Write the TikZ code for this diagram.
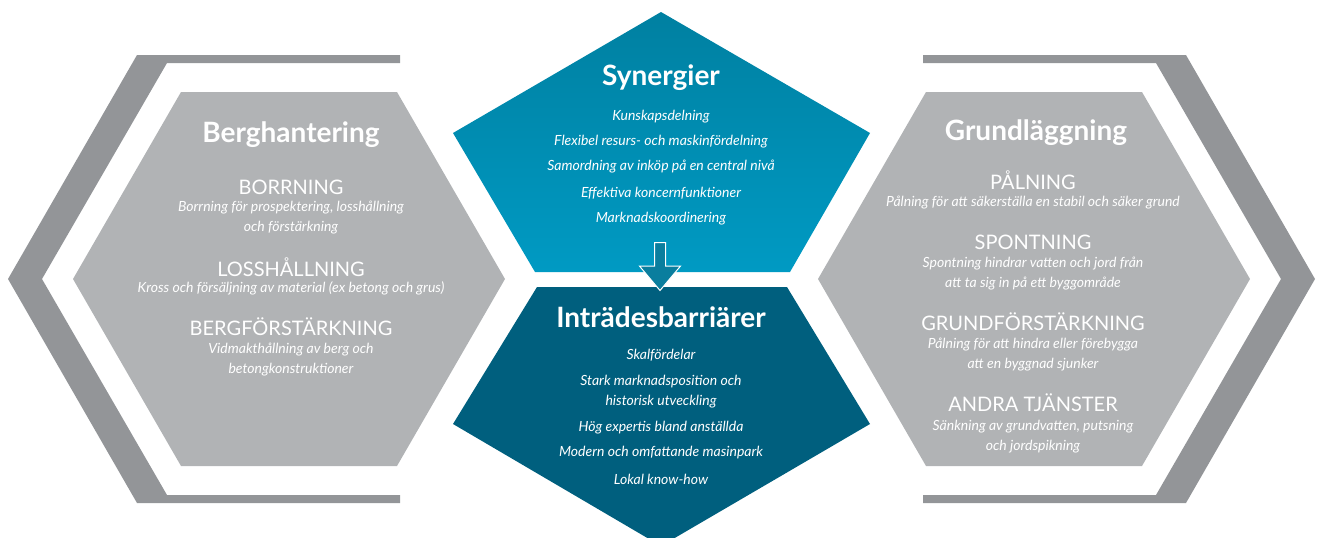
\documentclass[tikz,border=0pt]{standalone}
\usepackage{fontspec}
\setmainfont{Lato}
\usetikzlibrary{shapes.arrows}
\definecolor{bracketgray}{HTML}{939598}
\definecolor{hexgray}{HTML}{B1B3B5}
\definecolor{syntop}{HTML}{0080A1}
\definecolor{synbot}{HTML}{009AC3}
\definecolor{barrier}{HTML}{005F7E}
\definecolor{arrowteal}{HTML}{0A7E9E}
\tikzset{
  ttl/.style={text=white, font=\bfseries\fontsize{28}{32}\selectfont, inner sep=0pt},
  head/.style={text=white, font=\fontsize{20}{22}\selectfont, inner sep=0pt},
  desc/.style={text=white, font=\itshape\fontsize{14}{20}\selectfont, align=center, inner sep=0pt},
  blockarrow/.style={single arrow, shape border rotate=270, anchor=tail, fill=arrowteal,
    draw=white, line width=1pt, inner sep=5pt, minimum height=48pt,
    single arrow head extend=15pt, single arrow tip angle=80, single arrow head indent=0pt}
}

\begin{document}
\begin{tikzpicture}[x=1pt, y=-1pt]
\useasboundingbox (0,0) rectangle (1323,538);
% brackets
\fill[bracketgray] (400,55) -- (137,55) -- (8,279) -- (137,503) -- (400,503) -- (400,495)
  -- (167,495) -- (42,279) -- (167,63) -- (400,63) -- cycle;
\fill[bracketgray] (923,55) -- (1186,55) -- (1315,279) -- (1186,503) -- (923,503) -- (923,495)
  -- (1156,495) -- (1281,279) -- (1156,63) -- (923,63) -- cycle;
% hexagons
\fill[hexgray] (181,92) -- (397,92) -- (505,279) -- (397,466) -- (181,466) -- (73,279) -- cycle;
\fill[hexgray] (926,92) -- (1142,92) -- (1250,279) -- (1142,466) -- (926,466) -- (818,279) -- cycle;
% middle
\shade[top color=syntop, bottom color=synbot] (661,12) -- (870,133) -- (790,272) -- (535,272)
  -- (453,133) -- cycle;
\fill[barrier] (537,287) -- (787,287) -- (870,424) -- (661,546) -- (453,424) -- cycle;

% Berghantering
\node[ttl] (bergT) at (291,135) {Berghantering};
\node[head] (borr) at (291,187) {BORRNING};
\node[desc] (borrD) at (291,218) {Borrning för prospektering, losshållning\\och förstärkning};
\node[head] (loss) at (291,267) {LOSSHÅLLNING};
\node[desc] (lossD) at (291,288) {Kross och försäljning av material (ex betong och grus)};
\node[head] (bergf) at (291,327) {BERGFÖRSTÄRKNING};
\node[desc] (bergfD) at (291,360) {Vidmakthållning av berg och\\betongkonstruktioner};

% Grundlaggning
\node[ttl] (grundT) at (1036,133) {Grundläggning};
\node[head] (paln) at (1033,180) {PÅLNING};
\node[desc] (palnD) at (1033,203) {Pålning för att säkerställa en stabil och säker grund};
\node[head] (spont) at (1033,242) {SPONTNING};
\node[desc] (spontD) at (1033,274) {Spontning hindrar vatten och jord från\\att ta sig in på ett byggområde};
\node[head] (grundf) at (1033,322) {GRUNDFÖRSTÄRKNING};
\node[desc] (grundfD) at (1033,355) {Pålning för att hindra eller förebygga\\att en byggnad sjunker};
\node[head] (andra) at (1033,403) {ANDRA TJÄNSTER};
\node[desc] (andraD) at (1033,437) {Sänkning av grundvatten, putsning\\och jordspikning};

% Synergier
\node[ttl] (synT) at (661,78) {Synergier};
\node[desc] (syn1) at (661,117) {Kunskapsdelning};
\node[desc] (syn2) at (661,142) {Flexibel resurs- och maskinfördelning};
\node[desc] (syn3) at (661,167) {Samordning av inköp på en central nivå};
\node[desc] (syn4) at (661,193) {Effektiva koncernfunktioner};
\node[desc] (syn5) at (661,219) {Marknadskoordinering};

% Intradesbarriarer
\node[ttl] (barT) at (661,317) {Inträdesbarriärer};
\node[desc] (bar1) at (661,355) {Skalfördelar};
\node[desc] (bar2) at (661,392) {Stark marknadsposition och\\historisk utveckling};
\node[desc] (bar3) at (661,428) {Hög expertis bland anställda};
\node[desc] (bar4) at (661,453) {Modern och omfattande masinpark};
\node[desc] (bar5) at (661,479) {Lokal know-how};

\node[blockarrow] (synArrow) at (660,242) {};
\end{tikzpicture}
\end{document}
